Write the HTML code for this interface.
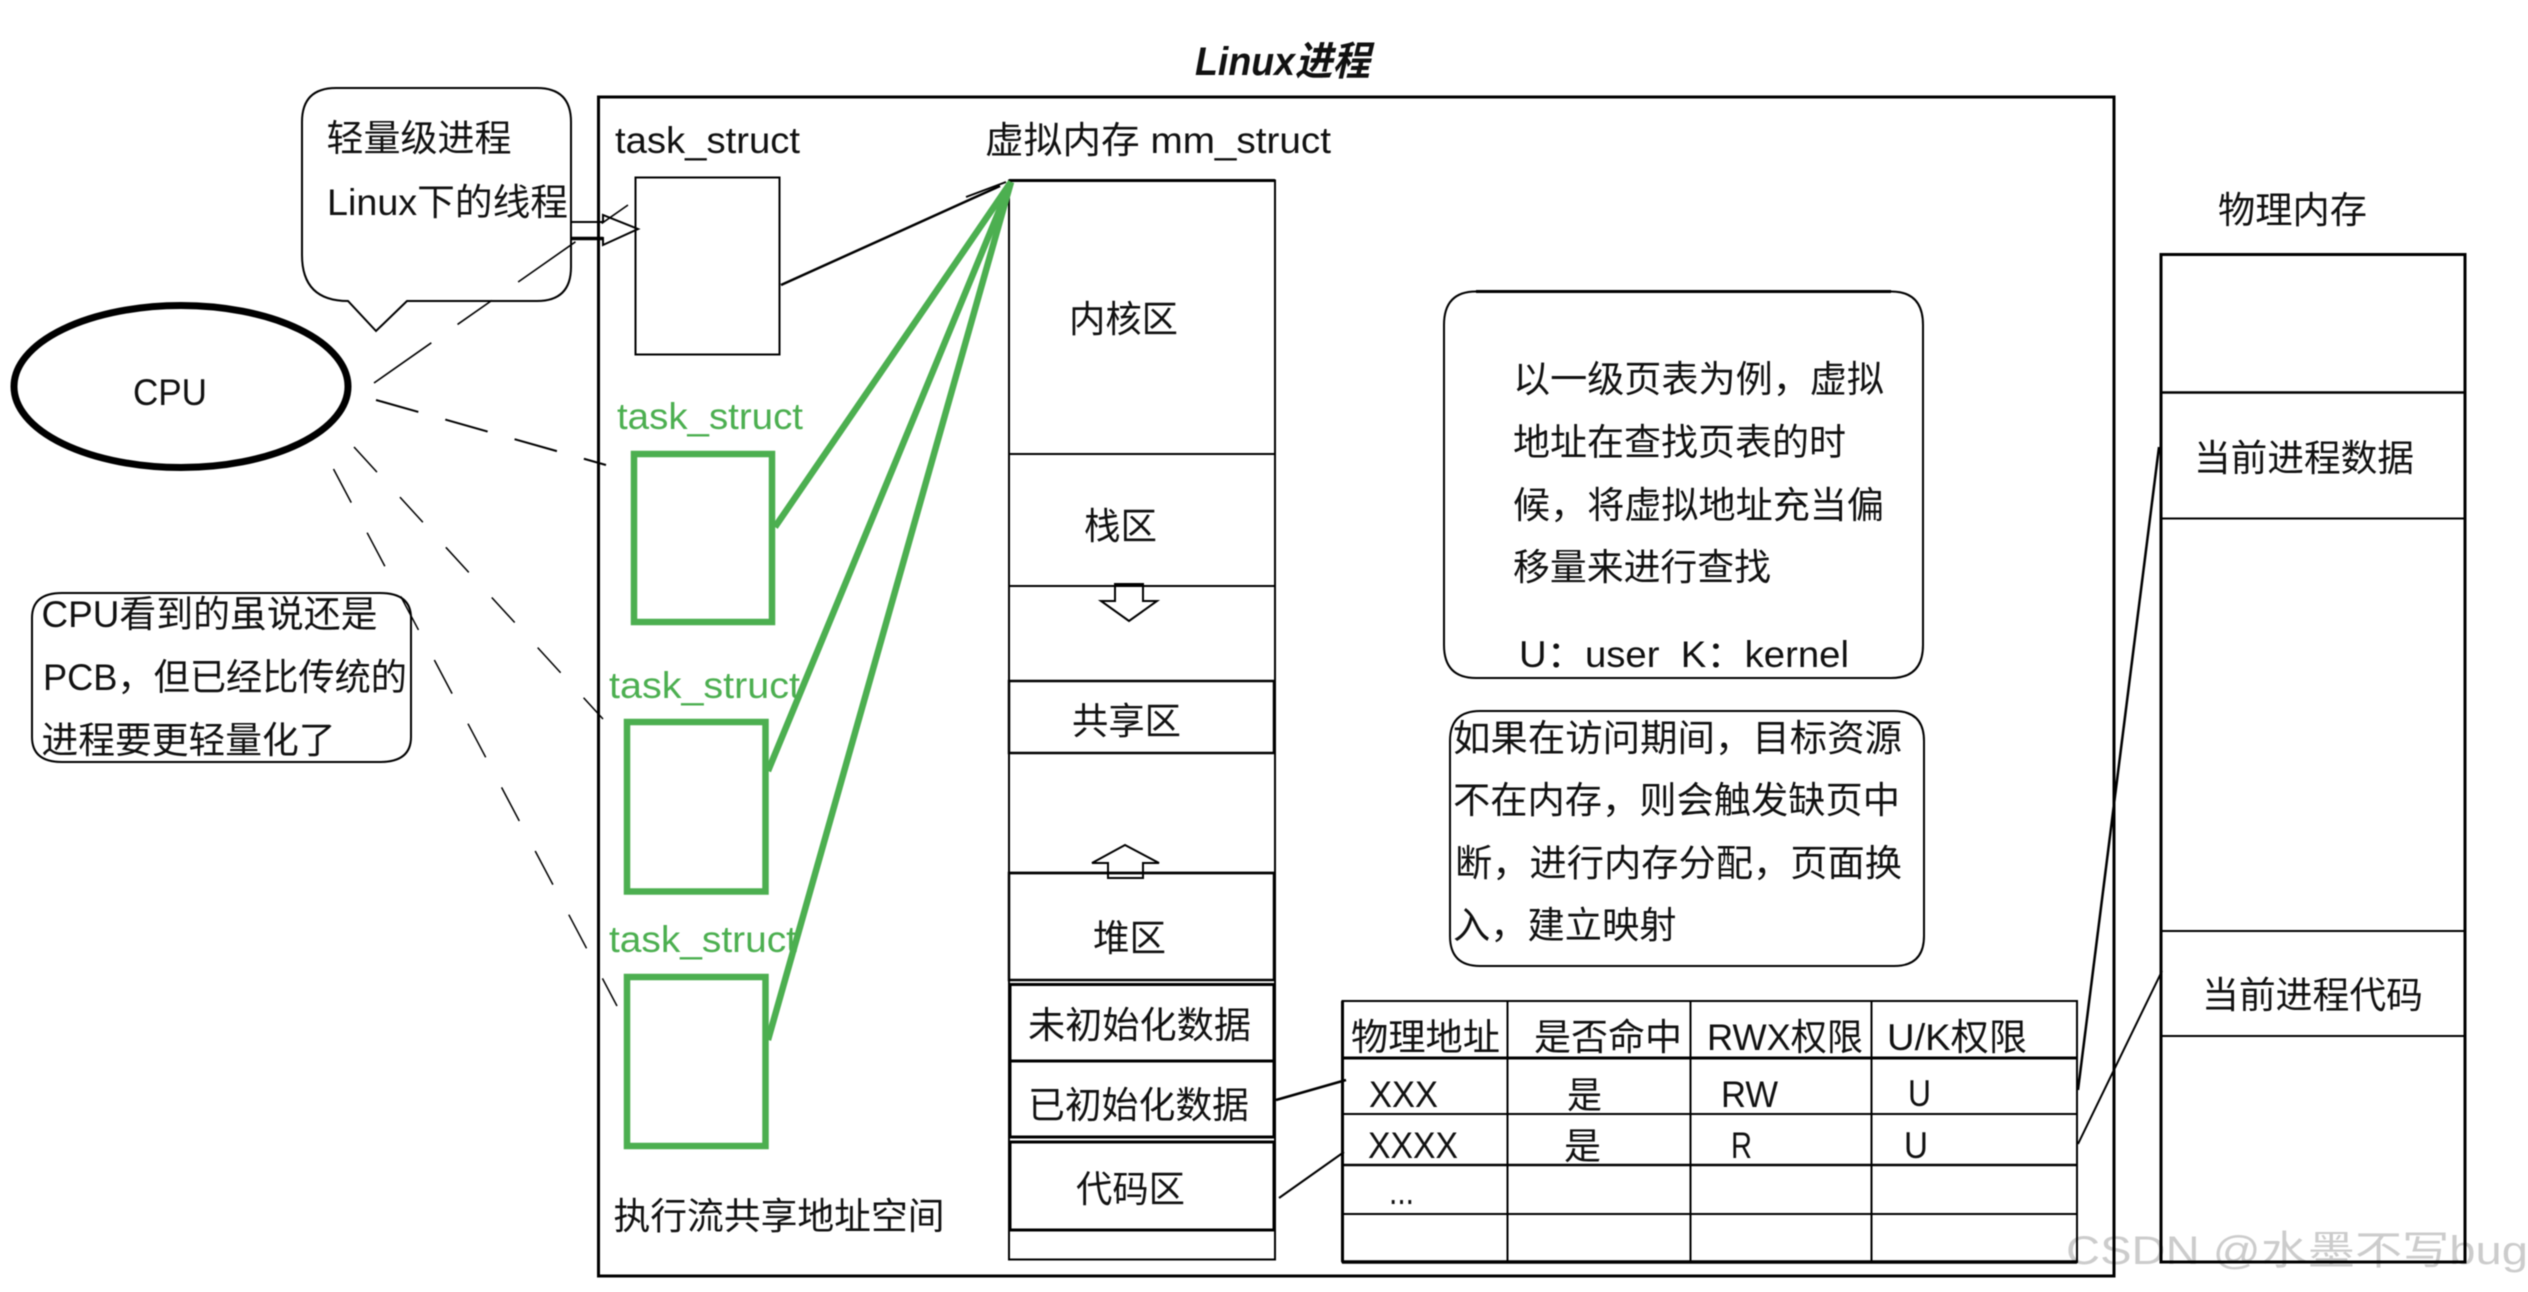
<!DOCTYPE html>
<html>
<head>
<meta charset="utf-8">
<style>
html,body{margin:0;padding:0;background:#fff;width:2528px;height:1292px;overflow:hidden}
svg{display:block;filter:blur(0.6px)}
text{font-family:"Liberation Sans","Noto Sans CJK SC",sans-serif;font-size:37px;fill:#111}
.g{fill:#4caf50}
</style>
</head>
<body>
<svg width="2528" height="1292" viewBox="0 0 2528 1292" xmlns="http://www.w3.org/2000/svg">
<rect width="2528" height="1292" fill="#fff"/>
<g fill="none" stroke="#000">
  <!-- main frame -->
  <rect x="598.5" y="97" width="1515.5" height="1179" stroke-width="3"/>
  <!-- first task -->
  <rect x="635.5" y="177.5" width="144" height="177" stroke-width="2"/>
  <line x1="781" y1="285" x2="1000" y2="186" stroke-width="2.5"/>
  <line x1="966" y1="197" x2="1006" y2="182" stroke-width="2"/>
  <!-- memory stack -->
  <rect x="1009" y="180.5" width="266" height="1079" stroke-width="2"/>
  <line x1="1009" y1="180.5" x2="1275" y2="180.5" stroke-width="3"/>
  <line x1="1009" y1="454" x2="1275" y2="454" stroke-width="2"/>
  <line x1="1009" y1="586" x2="1275" y2="586" stroke-width="2"/>
  <rect x="1009" y="681" width="265" height="72" stroke-width="2.5"/>
  <rect x="1009" y="873" width="265" height="107" stroke-width="2.5"/>
  <rect x="1010" y="984.5" width="264" height="152.5" stroke-width="3"/>
  <line x1="1010" y1="1061" x2="1274" y2="1061" stroke-width="3"/>
  <rect x="1010" y="1142" width="264" height="88" stroke-width="3"/>
  <!-- arrows in stack -->
  <path d="M1115 584H1143V601H1157L1129 621L1101 601H1115Z" fill="#fff" stroke-width="2"/>
  <line x1="1115" y1="585" x2="1143" y2="585" stroke-width="4"/>
  <path d="M1125 845L1159 863H1143V878H1108V863H1092Z" fill="none" stroke-width="2"/>
  <line x1="1009" y1="873" x2="1274" y2="873" stroke-width="2.5"/>
  <!-- page table -->
  <rect x="1342.5" y="1001" width="734.5" height="261" stroke-width="2"/>
  <line x1="1342" y1="1262" x2="2077" y2="1262" stroke-width="3.5"/>
  <line x1="1342.5" y1="1001" x2="1342.5" y2="1262" stroke-width="3"/>
  <line x1="1507.5" y1="1001" x2="1507.5" y2="1262" stroke-width="2"/>
  <line x1="1690.5" y1="1001" x2="1690.5" y2="1262" stroke-width="2"/>
  <line x1="1871.5" y1="1001" x2="1871.5" y2="1262" stroke-width="2"/>
  <line x1="1342" y1="1058" x2="2077" y2="1058" stroke-width="3"/>
  <line x1="1342" y1="1114" x2="2077" y2="1114" stroke-width="2"/>
  <line x1="1342" y1="1165" x2="2077" y2="1165" stroke-width="2.5"/>
  <line x1="1342" y1="1214" x2="2077" y2="1214" stroke-width="2"/>
  <!-- links -->
  <line x1="1276" y1="1100" x2="1346" y2="1080" stroke-width="2.5"/>
  <line x1="1279" y1="1198" x2="1344" y2="1152" stroke-width="2"/>
  <line x1="2078" y1="1090" x2="2159" y2="447" stroke-width="2.5"/>
  <line x1="2078" y1="1144" x2="2162" y2="971" stroke-width="2"/>
  <!-- physical memory -->
  <rect x="2161" y="254.5" width="304" height="1007.5" stroke-width="3"/>
  <line x1="2161" y1="392.5" x2="2465" y2="392.5" stroke-width="2.5"/>
  <line x1="2161" y1="518.5" x2="2465" y2="518.5" stroke-width="2"/>
  <line x1="2161" y1="931" x2="2465" y2="931" stroke-width="2"/>
  <line x1="2161" y1="1036" x2="2465" y2="1036" stroke-width="2"/>
  <!-- CPU -->
  <ellipse cx="181" cy="386.5" rx="167" ry="81" stroke-width="7"/>
  <!-- callout 1 -->
  <path d="M336 88H537Q571 88 571 122V267Q571 301 537 301H407L376 331L348 301Q302 301 302 255V122Q302 88 336 88Z" stroke-width="2"/>
  <!-- callout 2 -->
  <path d="M62 593H380Q411 593 411 618V737Q411 762 380 762H62Q32 762 32 737V618Q32 593 62 593Z" stroke-width="2"/>
  <!-- callout 3 -->
  <path d="M1476 291.5H1891Q1923 291.5 1923 325V645Q1923 678 1891 678H1476Q1444 678 1444 645V325Q1444 291.5 1476 291.5Z" stroke-width="2"/>
  <line x1="1476" y1="291.5" x2="1891" y2="291.5" stroke-width="3"/>
  <!-- callout 4 -->
  <path d="M1480 711H1894Q1924 711 1924 741V936Q1924 966 1894 966H1480Q1450 966 1450 936V741Q1450 711 1480 711Z" stroke-width="2"/>
  <!-- fat arrow -->
  <path d="M571 222H603V215L638 229L603 245V238H571" stroke-width="2"/>
  <line x1="571" y1="238.5" x2="603" y2="238.5" stroke-width="3.5"/>
  <!-- dashed -->
  <line x1="374" y1="383" x2="628" y2="205" stroke-width="1.6" stroke-dasharray="70 32 42 32"/>
  <line x1="376" y1="400" x2="606" y2="465" stroke-width="2" stroke-dasharray="44 28"/>
  <line x1="354" y1="447" x2="603" y2="719" stroke-width="1.5" stroke-dasharray="34 34"/>
  <line x1="333.5" y1="469" x2="617" y2="1006" stroke-width="1.5" stroke-dasharray="38 34"/>
</g>
<!-- green -->
<g fill="none" stroke="#4caf50" stroke-width="6.5">
  <rect x="634" y="454" width="138" height="168"/>
  <rect x="627" y="722" width="138.5" height="169.5"/>
  <rect x="627" y="977" width="138.5" height="169"/>
  <line x1="775" y1="527" x2="1011" y2="182"/>
  <line x1="768" y1="771" x2="1011" y2="182"/>
  <line x1="768" y1="1040" x2="1011" y2="182"/>
</g>
<!-- labels -->
<text x="1195" y="75" font-weight="bold" font-style="italic" style="font-size:40px" textLength="175" lengthAdjust="spacingAndGlyphs">Linux进程</text>
<text x="615" y="153" textLength="185" lengthAdjust="spacingAndGlyphs">task_struct</text>
<text x="985" y="153" textLength="346" lengthAdjust="spacingAndGlyphs">虚拟内存 mm_struct</text>
<text class="g" x="617" y="429" textLength="186" lengthAdjust="spacingAndGlyphs">task_struct</text>
<text class="g" x="609" y="698" textLength="191" lengthAdjust="spacingAndGlyphs">task_struct</text>
<text class="g" x="609" y="952" textLength="188" lengthAdjust="spacingAndGlyphs">task_struct</text>
<text x="613.5" y="1229" textLength="331" lengthAdjust="spacingAndGlyphs">执行流共享地址空间</text>

<text x="133" y="405" textLength="74" lengthAdjust="spacingAndGlyphs">CPU</text>
<text x="326.5" y="151" textLength="185" lengthAdjust="spacingAndGlyphs">轻量级进程</text>
<text x="327" y="215" textLength="241" lengthAdjust="spacingAndGlyphs">Linux下的线程</text>
<text x="41.5" y="627" textLength="336" lengthAdjust="spacingAndGlyphs">CPU看到的虽说还是</text>
<text x="43" y="690" textLength="364" lengthAdjust="spacingAndGlyphs">PCB，但已经比传统的</text>
<text x="41.5" y="753" textLength="294" lengthAdjust="spacingAndGlyphs">进程要更轻量化了</text>

<text x="1069" y="332" textLength="109" lengthAdjust="spacingAndGlyphs">内核区</text>
<text x="1084" y="539" textLength="73" lengthAdjust="spacingAndGlyphs">栈区</text>
<text x="1072" y="734" textLength="109" lengthAdjust="spacingAndGlyphs">共享区</text>
<text x="1093" y="951" textLength="73" lengthAdjust="spacingAndGlyphs">堆区</text>
<text x="1028" y="1038" textLength="223" lengthAdjust="spacingAndGlyphs">未初始化数据</text>
<text x="1028" y="1118" textLength="221" lengthAdjust="spacingAndGlyphs">已初始化数据</text>
<text x="1076" y="1202" textLength="109" lengthAdjust="spacingAndGlyphs">代码区</text>

<text x="1513" y="392" textLength="371" lengthAdjust="spacingAndGlyphs">以一级页表为例，虚拟</text>
<text x="1513" y="455" textLength="333" lengthAdjust="spacingAndGlyphs">地址在查找页表的时</text>
<text x="1513" y="518" textLength="371" lengthAdjust="spacingAndGlyphs">候，将虚拟地址充当偏</text>
<text x="1513" y="580" textLength="258" lengthAdjust="spacingAndGlyphs">移量来进行查找</text>
<text x="1519" y="667" textLength="330" lengthAdjust="spacingAndGlyphs" xml:space="preserve">U：user  K：kernel</text>

<text x="1453" y="751" textLength="449" lengthAdjust="spacingAndGlyphs">如果在访问期间，目标资源</text>
<text x="1453" y="813" textLength="447" lengthAdjust="spacingAndGlyphs">不在内存，则会触发缺页中</text>
<text x="1455" y="876" textLength="447" lengthAdjust="spacingAndGlyphs">断，进行内存分配，页面换</text>
<text x="1453" y="938" textLength="223.5" lengthAdjust="spacingAndGlyphs">入，建立映射</text>

<text x="1351" y="1050" textLength="149" lengthAdjust="spacingAndGlyphs">物理地址</text>
<text x="1534" y="1050" textLength="148" lengthAdjust="spacingAndGlyphs">是否命中</text>
<text x="1707" y="1050" textLength="156" lengthAdjust="spacingAndGlyphs">RWX权限</text>
<text x="1887" y="1050" textLength="140" lengthAdjust="spacingAndGlyphs">U/K权限</text>
<text x="1369" y="1107" textLength="69" lengthAdjust="spacingAndGlyphs">XXX</text>
<text x="1567" y="1108" textLength="35" lengthAdjust="spacingAndGlyphs">是</text>
<text x="1721" y="1107" textLength="57" lengthAdjust="spacingAndGlyphs">RW</text>
<text x="1908" y="1106" textLength="23" lengthAdjust="spacingAndGlyphs">U</text>
<text x="1368" y="1158" textLength="90" lengthAdjust="spacingAndGlyphs">XXXX</text>
<text x="1564" y="1159" textLength="37" lengthAdjust="spacingAndGlyphs">是</text>
<text x="1731" y="1158" textLength="21" lengthAdjust="spacingAndGlyphs">R</text>
<text x="1904" y="1158" textLength="24" lengthAdjust="spacingAndGlyphs">U</text>
<text x="1389" y="1204" textLength="25" lengthAdjust="spacingAndGlyphs">...</text>

<text x="2218" y="223" textLength="149" lengthAdjust="spacingAndGlyphs">物理内存</text>
<text x="2194" y="471" textLength="220" lengthAdjust="spacingAndGlyphs">当前进程数据</text>
<text x="2202" y="1008" textLength="221" lengthAdjust="spacingAndGlyphs">当前进程代码</text>

<text x="2066" y="1264" style="font-size:40px;fill:#000;fill-opacity:.2" textLength="462" lengthAdjust="spacingAndGlyphs">CSDN @水墨不写bug</text>
</svg>
</body>
</html>
